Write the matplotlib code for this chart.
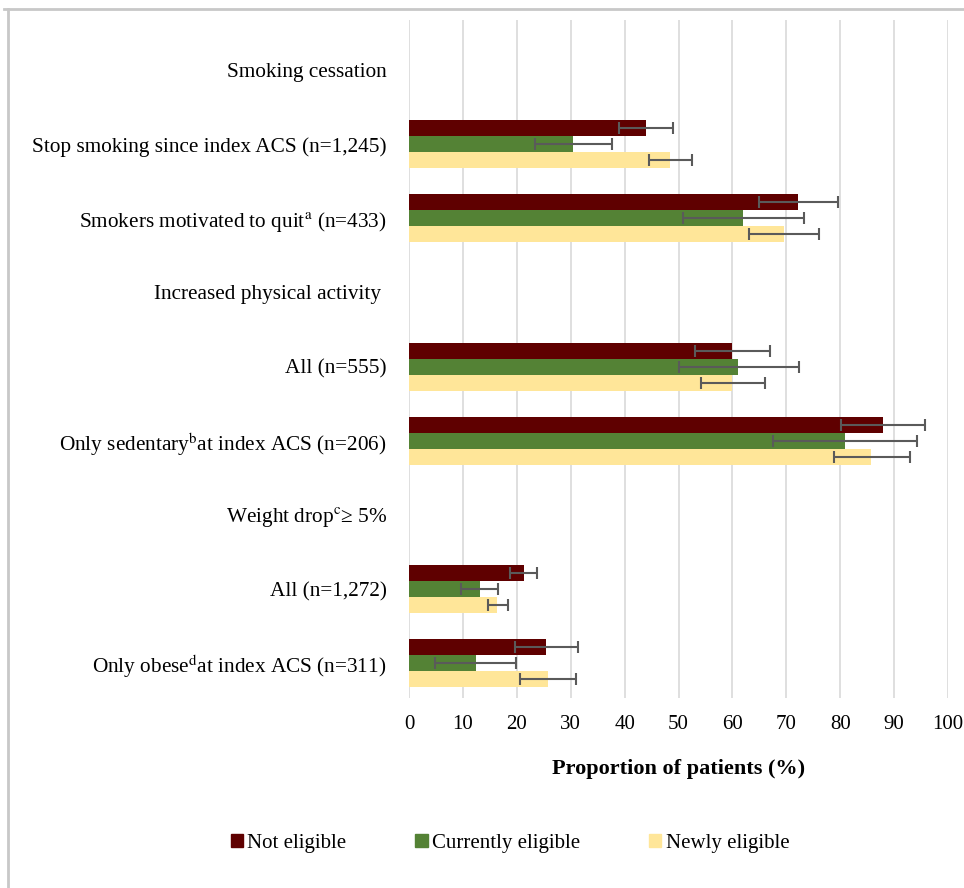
import numpy as np
import matplotlib.pyplot as plt
from matplotlib.lines import Line2D

plt.rcParams['font.family'] = ['Liberation Serif', 'DejaVu Serif']
plt.rcParams['mathtext.fontset'] = 'stix'

categories = [
    'Smoking cessation',
    'Stop smoking since index ACS (n=1,245)',
    r'Smokers motivated to quit$^{\mathrm{a}}$ (n=433)',
    'Increased physical activity ',
    'All (n=555)',
    r'Only sedentary$^{\mathrm{b}}$at index ACS (n=206)',
    r'Weight drop$^{\mathrm{c}}$≥ 5%',
    'All (n=1,272)',
    r'Only obese$^{\mathrm{d}}$at index ACS (n=311)',
]

series = ['Not eligible', 'Currently eligible', 'Newly eligible']
colors = ['#5f0000', '#548235', '#ffe699']

# values (%), nan for header rows
not_eligible = [np.nan, 44.0, 72.2, np.nan, 60.0, 88.0, np.nan, 21.3, 25.5]
currently_eligible = [np.nan, 30.4, 62.0, np.nan, 61.0, 80.8, np.nan, 13.1, 12.4]
newly_eligible = [np.nan, 48.5, 69.5, np.nan, 60.0, 85.8, np.nan, 16.4, 25.8]

# confidence intervals (low, high)
ne_low = [np.nan, 39.0, 65.0, np.nan, 53.1, 80.2, np.nan, 18.8, 19.6]
ne_high = [np.nan, 49.0, 79.5, np.nan, 67.0, 95.8, np.nan, 23.7, 31.3]
ce_low = [np.nan, 23.3, 50.8, np.nan, 50.0, 67.5, np.nan, 9.7, 4.9]
ce_high = [np.nan, 37.6, 73.2, np.nan, 72.4, 94.3, np.nan, 16.5, 19.8]
nw_low = [np.nan, 44.6, 63.0, np.nan, 54.1, 78.8, np.nan, 14.6, 20.6]
nw_high = [np.nan, 52.5, 76.0, np.nan, 66.0, 93.0, np.nan, 18.3, 30.9]

vals = [not_eligible, currently_eligible, newly_eligible]
lows = [ne_low, ce_low, nw_low]
highs = [ne_high, ce_high, nw_high]

fig = plt.figure(figsize=(9.64, 8.88), dpi=100)
ax = fig.add_axes([409 / 964, 1 - 698 / 888, (948 - 409) / 964, (698 - 20) / 888])

y = np.arange(len(categories))
h = 0.216
offsets = [-h, 0, h]
for v, lo, hi, c, off, name in zip(vals, lows, highs, colors, offsets, series):
    v = np.array(v)
    err = np.vstack([v - np.array(lo), np.array(hi) - v])
    ax.barh(y + off, v, height=h, color=c, label=name, zorder=2)
    ax.errorbar(v, y + off, xerr=err, fmt='none', ecolor='#5a5a5a',
                elinewidth=1.5, capsize=4, capthick=1.5, zorder=3)

ax.set_xlim(0, 100)
ax.set_ylim(8.47, -0.675)
ax.set_xticks(np.arange(0, 101, 10))
ax.set_yticks(y)
ax.set_yticklabels(categories)
ax.tick_params(axis='y', length=0, pad=16, labelsize=15.3)
ax.tick_params(axis='x', length=0, pad=12, labelsize=15)
ax.grid(True, axis='x', color='#d9d9d9', linewidth=1.2, zorder=0)
ax.set_axisbelow(True)
for s in ax.spines.values():
    s.set_visible(False)

ax.set_xlabel('Proportion of patients (%)', fontsize=16, fontweight='bold', labelpad=18)

handles = [plt.Rectangle((0, 0), 1, 1, color=c) for c in colors]
fig.legend(handles, series, loc='center', bbox_to_anchor=(510 / 964, 1 - 843 / 888),
           ncol=3, frameon=False, fontsize=15, handlelength=0.6, handleheight=0.6,
           handletextpad=0.2, columnspacing=3.3)

# outer frame lines
fig.add_artist(Line2D([8 / 964, 8 / 964], [0, 1 - 9 / 888], transform=fig.transFigure,
                      color='#c8c8c8', linewidth=2))
fig.add_artist(Line2D([4 / 964, 1], [1 - 9 / 888, 1 - 9 / 888], transform=fig.transFigure,
                      color='#c8c8c8', linewidth=2))

plt.savefig('out.png', dpi=100)
